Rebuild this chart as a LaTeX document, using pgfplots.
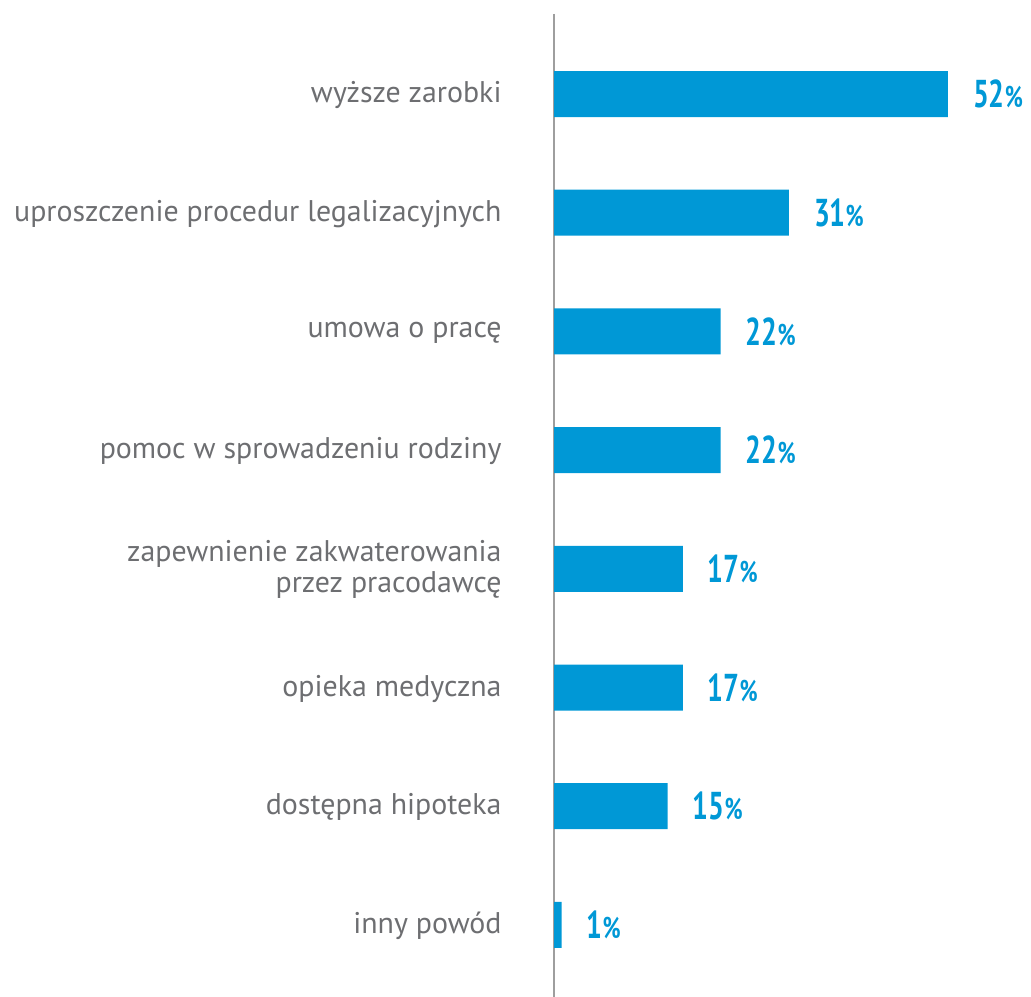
\documentclass[border=0pt]{standalone}
\usepackage{fontspec}
\setmainfont{PT Sans}
\usepackage{pgfplots}
\pgfplotsset{compat=1.18}
\definecolor{barblue}{HTML}{0098D6}
\definecolor{labgray}{HTML}{6D6E71}
\definecolor{axgray}{HTML}{9E9E9E}
\begin{document}
\begin{tikzpicture}
\path[use as bounding box] (0,0) rectangle (1031bp,997bp);
\begin{axis}[
  at={(554bp,0)}, anchor=south west,
  scale only axis, width=454.6bp, height=983bp,
  xmin=0, xmax=60, ymin=-0.674, ymax=7.607,
  y dir=reverse,
  axis x line=none,
  axis y line*=left,
  y axis line style={-, draw=axgray, line width=1.5bp},
  xtick=\empty,
  ytick={0,1,2,3,4,5,6,7},
  yticklabels={wyższe zarobki, uproszczenie procedur legalizacyjnych, umowa o pracę, pomoc w sprowadzeniu rodziny, {zapewnienie zakwaterowania\\przez pracodawcę}, opieka medyczna, dostępna hipoteka, inny powód},
  ytick style={draw=none},
  yticklabel style={font=\fontsize{30}{31}\selectfont, text=labgray, align=right, inner sep=0pt, xshift=-48bp, yshift=-1bp},
  clip=false,
  xbar,
  bar width=0.3875,
  /pgf/number format/assume math mode=true,
  nodes near coords={\pgfmathprintnumber{\pgfplotspointmeta}{\fontsize{30}{30}\selectfont\%}},
  point meta=explicit,
  every node near coord/.style={anchor=west, inner sep=0pt, xshift=25bp, xscale=0.72, font=\fontsize{39}{39}\selectfont\bfseries, text=barblue},
]
\addplot[fill=barblue, draw=none] coordinates {
  (52,0) [52]
  (31,1) [31]
  (22,2) [22]
  (22,3) [22]
  (17,4) [17]
  (17,5) [17]
  (15,6) [15]
  (1,7) [1]
};
\end{axis}
\end{tikzpicture}
\end{document}
